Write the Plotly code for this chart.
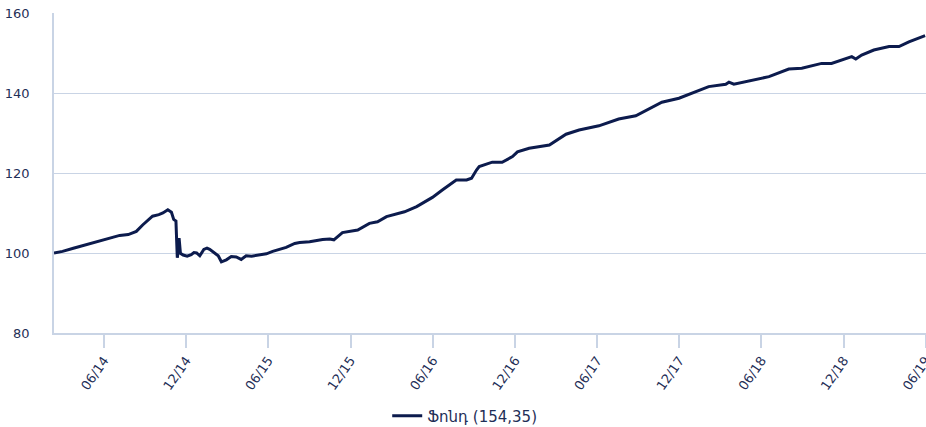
import plotly.graph_objects as go

dates = [
    "2014-02-10", "2014-03-01", "2014-03-25", "2014-04-20", "2014-05-23", "2014-06-10",
    "2014-07-06", "2014-07-25", "2014-08-12", "2014-08-26", "2014-09-05", "2014-09-17",
    "2014-10-01", "2014-10-10", "2014-10-21", "2014-10-29", "2014-11-03", "2014-11-08",
    "2014-11-11", "2014-11-13", "2014-11-15", "2014-11-17", "2014-11-18", "2014-11-24",
    "2014-12-03", "2014-12-12", "2014-12-18", "2014-12-24", "2014-12-31", "2015-01-09",
    "2015-01-16", "2015-01-22", "2015-02-02", "2015-02-10", "2015-02-17", "2015-02-28",
    "2015-03-11", "2015-03-22", "2015-04-02", "2015-04-13", "2015-04-25", "2015-05-13",
    "2015-05-28", "2015-06-11", "2015-06-27", "2015-07-11", "2015-07-30", "2015-08-10",
    "2015-09-01", "2015-09-30", "2015-10-16", "2015-10-25", "2015-11-13", "2015-12-17",
    "2016-01-12", "2016-01-30", "2016-02-19", "2016-03-30", "2016-04-26", "2016-05-31",
    "2016-06-22", "2016-07-23", "2016-08-15", "2016-08-26", "2016-09-06", "2016-09-12",
    "2016-10-11", "2016-11-02", "2016-11-25", "2016-12-06", "2017-01-01", "2017-02-15",
    "2017-03-24", "2017-04-22", "2017-06-05", "2017-07-19", "2017-08-26", "2017-09-24",
    "2017-10-23", "2017-11-30", "2017-12-22", "2018-01-13", "2018-02-04", "2018-03-14",
    "2018-03-21", "2018-04-01", "2018-05-11", "2018-06-18", "2018-08-01", "2018-08-30",
    "2018-10-13", "2018-11-04", "2018-12-19", "2018-12-28", "2019-01-10", "2019-02-06",
    "2019-03-12", "2019-04-03", "2019-04-25", "2019-05-31",
]

fund_values = [
    100.0, 100.4, 101.2, 102.0, 103.2, 103.6,
    104.4, 104.6, 105.4, 107.0, 108.0, 109.2,
    109.6, 110.0, 110.8, 110.2, 108.4, 108.0,
    98.8, 100.5, 103.7, 101.5, 99.9, 99.5,
    99.2, 99.6, 100.1, 100.0, 99.3, 100.9,
    101.2, 100.9, 100.0, 99.3, 97.8, 98.3,
    99.1, 99.0, 98.4, 99.3, 99.2, 99.6,
    99.8, 100.4, 100.9, 101.4, 102.4, 102.6,
    102.8, 103.4, 103.5, 103.3, 105.1, 105.75,
    107.4, 107.8, 109.1, 110.3, 111.6, 113.9,
    115.75, 118.25, 118.25, 118.7, 120.75, 121.6,
    122.7, 122.7, 124.1, 125.3, 126.2, 127.0,
    129.7, 130.75, 131.8, 133.5, 134.3, 136.0,
    137.7, 138.7, 139.7, 140.5, 141.6, 142.2,
    142.7, 142.2, 143.25, 144.1, 146.0, 146.2,
    147.4, 147.4, 149.1, 148.5, 149.5, 150.75,
    151.6, 151.6, 152.8, 154.35,
]

series_name = "Ֆոնդ (154,35)"

tick_dates = [
    "2014-06-01", "2014-12-01", "2015-06-01", "2015-12-01", "2016-06-01", "2016-12-01",
    "2017-06-01", "2017-12-01", "2018-06-01", "2018-12-01", "2019-06-01",
]
tick_labels = ["06/14", "12/14", "06/15", "12/15", "06/16", "12/16",
               "06/17", "12/17", "06/18", "12/18", "06/19"]

y_ticks = [80, 100, 120, 140, 160]

text_color = "#1f2f57"
grid_color = "#c9d4e5"
line_color = "#0c1b4d"

fig = go.Figure()
fig.add_trace(go.Scatter(
    x=dates, y=fund_values, mode="lines", name=series_name,
    line=dict(color=line_color, width=3),
))

fig.update_layout(
    width=926, height=427,
    margin=dict(l=54, r=0, t=13, b=94, autoexpand=False),
    paper_bgcolor="white", plot_bgcolor="white",
    font=dict(family="DejaVu Sans", size=13, color=text_color),
    showlegend=True,
    legend=dict(orientation="h", x=0.471, xanchor="center",
                yref="container", y=0.026, yanchor="middle",
                font=dict(size=15, color=text_color)),
)
fig.update_xaxes(
    type="date", range=["2014-02-10", "2019-06-02"], automargin=False,
    tickmode="array", tickvals=tick_dates, ticktext=tick_labels,
    tickangle=-55, ticks="outside", ticklen=13, tickcolor=grid_color, tickwidth=1.5,
    ticklabeloverflow="allow",
    showline=True, linecolor=grid_color, linewidth=1.5,
    showgrid=False, zeroline=False,
)
fig.update_yaxes(
    range=[80, 160], tickvals=y_ticks, automargin=False,
    showgrid=True, gridcolor=grid_color, gridwidth=1.2,
    showline=True, linecolor=grid_color, linewidth=1.5,
    zeroline=False, ticks="", ticklabelstandoff=20,
)

fig.write_html(
    "out.html",
    config={"displayModeBar": False},
    post_script="document.body.style.margin='0';document.body.style.overflow='hidden';",
)
